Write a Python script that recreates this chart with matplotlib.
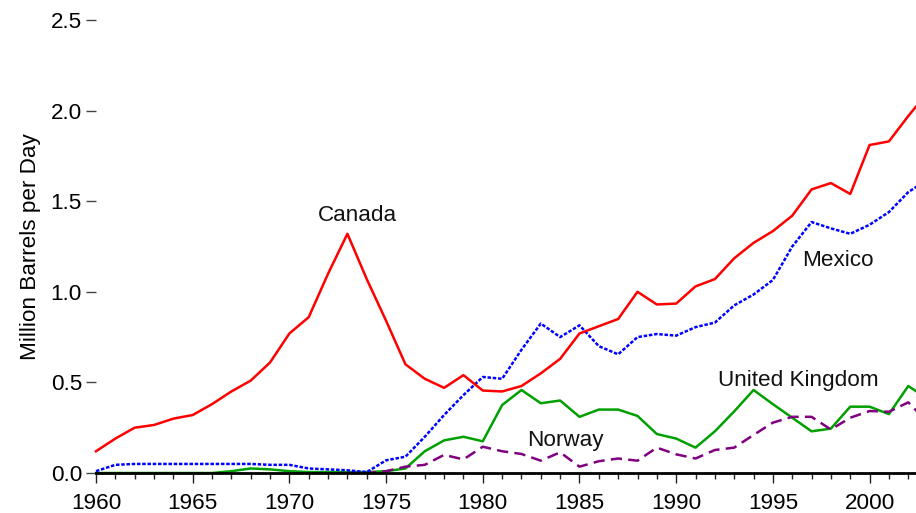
import matplotlib
matplotlib.use("Agg")
import matplotlib.pyplot as plt
from matplotlib.ticker import MultipleLocator

plt.rcParams['font.family'] = ['Liberation Sans', 'DejaVu Sans']

years = list(range(1960, 2004))

canada = [0.12, 0.19, 0.25, 0.265, 0.30, 0.32, 0.38, 0.45, 0.51, 0.61,
          0.77, 0.86, 1.10, 1.32, 1.07, 0.84, 0.60, 0.52, 0.47, 0.54,
          0.455, 0.45, 0.48, 0.55, 0.63, 0.77, 0.81, 0.85, 1.00, 0.93,
          0.935, 1.03, 1.07, 1.185, 1.27, 1.335, 1.42, 1.565, 1.60, 1.54,
          1.81, 1.83, 1.97, 2.10]

mexico = [0.01, 0.045, 0.05, 0.05, 0.05, 0.05, 0.05, 0.05, 0.05, 0.045,
          0.045, 0.025, 0.02, 0.015, 0.005, 0.07, 0.09, 0.20, 0.32, 0.43,
          0.53, 0.52, 0.68, 0.825, 0.75, 0.815, 0.70, 0.655, 0.75, 0.767,
          0.758, 0.805, 0.83, 0.925, 0.985, 1.065, 1.25, 1.385, 1.35, 1.32,
          1.37, 1.44, 1.55, 1.62]

uk = [0.0, 0.0, 0.0, 0.0, 0.0, 0.0, 0.0, 0.01, 0.025, 0.02,
      0.01, 0.005, 0.005, 0.005, 0.005, 0.01, 0.025, 0.12, 0.18, 0.20,
      0.175, 0.375, 0.458, 0.385, 0.40, 0.31, 0.35, 0.35, 0.315, 0.215,
      0.19, 0.14, 0.23, 0.34, 0.458, 0.38, 0.305, 0.23, 0.245, 0.366,
      0.366, 0.325, 0.48, 0.41]

norway_years = list(range(1973, 2004))
norway = [0.0, 0.0, 0.01, 0.035, 0.045, 0.10, 0.075,
          0.145, 0.12, 0.105, 0.068, 0.114, 0.035, 0.065, 0.08, 0.068, 0.14,
          0.103, 0.08, 0.127, 0.14, 0.21, 0.278, 0.31, 0.31, 0.24, 0.305,
          0.342, 0.338, 0.39, 0.28]

labels = ["Canada", "Mexico", "United Kingdom", "Norway"]
label_pos = [(1973.5, 1.42), (1998.35, 1.175), (1996.3, 0.513), (1984.25, 0.177)]

FS = 16.2

fig = plt.figure(figsize=(9.16, 5.13), dpi=100)
ax = fig.add_axes([96/916, 1-473/513, 1-96/916, (473-20)/513])

ax.plot(years, uk, color='#00A000', lw=1.8, clip_on=False, zorder=3)
ax.plot(norway_years, norway, color='#800080', lw=1.8, dashes=(4.5, 2.5), clip_on=False, zorder=3)
ax.plot(years, mexico, color='#0000FF', lw=1.8, dashes=(1.4, 0.7), clip_on=False, zorder=3)
ax.plot(years, canada, color='#FF0000', lw=1.8, clip_on=False, zorder=4)

for txt, (x, y) in zip(labels, label_pos):
    ax.text(x, y, txt, ha='center', va='center', fontsize=FS, color='#111111')

ax.set_xlim(1960, 2002.4)
ax.set_ylim(0, 2.5)

for s in ['top', 'right', 'left']:
    ax.spines[s].set_visible(False)
ax.spines['bottom'].set_linewidth(2.0)
ax.spines['bottom'].set_color('black')
ax.spines['bottom'].set_zorder(5)

ax.xaxis.set_major_locator(MultipleLocator(5))
ax.xaxis.set_minor_locator(MultipleLocator(1))
ax.tick_params(axis='x', which='major', direction='out', length=7.2, width=1, color='#222222',
               labelsize=FS, pad=7.5)
ax.tick_params(axis='x', which='minor', direction='out', length=4.3, width=1, color='#222222')
ax.set_yticks([0, 0.5, 1.0, 1.5, 2.0, 2.5])
ax.set_yticklabels(['0.0', '0.5', '1.0', '1.5', '2.0', '2.5'])
ax.tick_params(axis='y', direction='out', length=7, width=1, color='#444444',
               labelsize=FS, pad=3)

ax.set_ylabel("Million Barrels per Day", fontsize=FS, labelpad=7)

fig.savefig("out.png", dpi=100)
